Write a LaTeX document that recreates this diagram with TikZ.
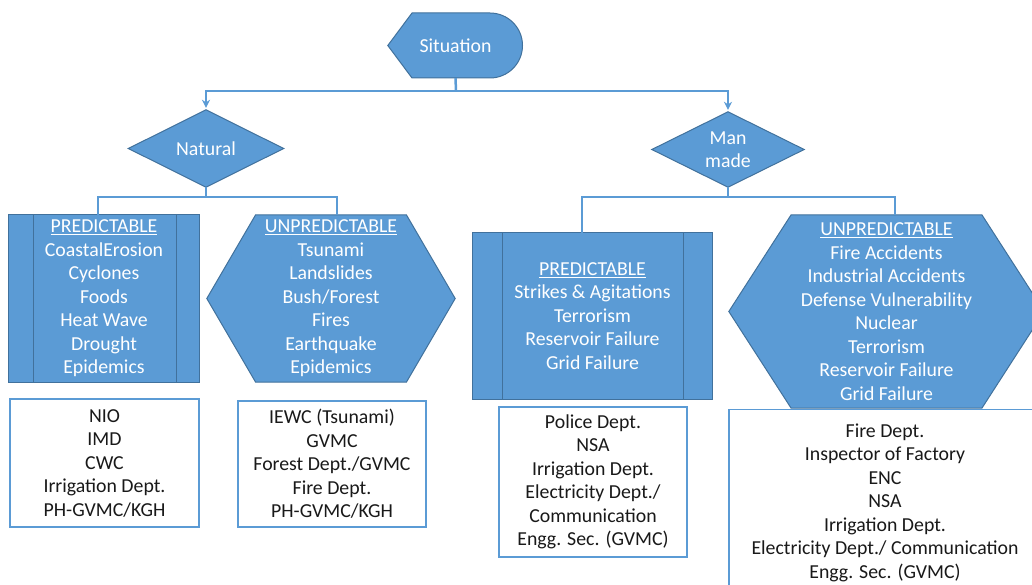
\documentclass[tikz,border=0pt]{standalone}
\usepackage{fontspec}
\setmainfont{Carlito}
\usetikzlibrary{backgrounds,arrows.meta}
\definecolor{shapeblue}{HTML}{5B9BD5}
\definecolor{edgeblue}{HTML}{41719C}
\definecolor{lineblue}{HTML}{5B9BD5}
\begin{document}
\begin{tikzpicture}[x=1pt,y=-1pt,
  lbl/.style={inner sep=0pt, align=center, font=\fontsize{19.8}{23.5}\selectfont},
  shapetext/.style={lbl,text=white},
  listtext/.style={lbl,text=black!90},
  blueshape/.style={fill=shapeblue,draw=edgeblue,line width=1pt},
  listbox/.style={draw=lineblue,line width=1.6pt,fill=white},
  link/.style={draw=lineblue,line width=2.5pt},
  tip/.style={-{Stealth[length=8pt,width=8pt]},shorten >=2pt}
]
\useasboundingbox (0,0) rectangle (1032,585);
\clip (0,0) rectangle (1032,585);

% ---- text nodes (sized to their shapes) ----
\node[shapetext, minimum width=135, minimum height=65] (sit) at (455.5,45.5) {Situation};
\node[shapetext, minimum width=155, minimum height=77] (natural) at (206,148.5) {Natural};
\node[shapetext, minimum width=152, minimum height=75] (manmade) at (728,149.5) {Man\\made};

\node[shapetext, minimum width=190, minimum height=167] (natpred) at (104,298.5)
  {\underline{PREDICTABLE}\\CoastalErosion\\Cyclones\\Foods\\Heat Wave\\Drought\\Epidemics};
\node[shapetext, minimum width=248, minimum height=167] (natunp) at (331,298.5)
  {\underline{UNPREDICTABLE}\\Tsunami\\Landslides\\Bush/Forest\\Fires\\Earthquake\\Epidemics};
\node[shapetext, minimum width=239, minimum height=166] (manpred) at (592.5,316)
  {\underline{PREDICTABLE}\\Strikes \& Agitations\\Terrorism\\Reservoir Failure\\Grid Failure};
\node[shapetext, minimum width=315, minimum height=193] (manunp) at (886.5,311.5)
  {\underline{UNPREDICTABLE}\\Fire Accidents\\Industrial Accidents\\Defense Vulnerability\\Nuclear\\Terrorism\\Reservoir Failure\\Grid Failure};

\node[listtext, minimum width=189, minimum height=128] (natpredorg) at (104.5,463)
  {NIO\\IMD\\CWC\\Irrigation Dept.\\PH-GVMC/KGH};
\node[listtext, minimum width=188, minimum height=126] (natunporg) at (332,464)
  {IEWC (Tsunami)\\GVMC\\Forest Dept./GVMC\\Fire Dept.\\PH-GVMC/KGH};
\node[listtext, minimum width=188, minimum height=150] (manpredorg) at (593,482)
  {Police Dept.\\NSA\\Irrigation Dept.\\Electricity Dept./\\Communication\\Engg. Sec. (GVMC)};
\node[listtext, minimum width=312, minimum height=186] (manunporg) at (885,502.5)
  {Fire Dept.\\Inspector of Factory\\ENC\\NSA\\Irrigation Dept.\\Electricity Dept./ Communication\\Engg. Sec. (GVMC)};

% ---- shapes behind the text ----
\begin{pgfonlayer}{background}
  % terminal-style start shape
  \path[blueshape] (sit.west) -- (412,13) -- (490,13)
    arc[start angle=-90,end angle=90,radius=32.5] -- (412,78) -- cycle;
  % decision diamonds
  \path[blueshape] (natural.west) -- (natural.north) -- (natural.east) -- (natural.south) -- cycle;
  \path[blueshape] (manmade.west) -- (manmade.north) -- (manmade.east) -- (manmade.south) -- cycle;
  % predefined-process boxes
  \path[blueshape] (natpred.north west) rectangle (natpred.south east);
  \draw[edgeblue,line width=1pt] (33,215) -- (33,382) (176,215) -- (176,382);
  \path[blueshape] (manpred.north west) rectangle (manpred.south east);
  \draw[edgeblue,line width=1pt] (502,233) -- (502,399) (683,233) -- (683,399);
  % hexagons
  \path[blueshape] (natunp.west) -- (255.5,215) -- (406.5,215) -- (natunp.east)
    -- (406.5,382) -- (255.5,382) -- cycle;
  \path[blueshape] (manunp.west) -- (791,215) -- (982,215) -- (manunp.east)
    -- (982,408) -- (791,408) -- cycle;
  % responsible-agency boxes
  \path[listbox] (natpredorg.north west) rectangle (natpredorg.south east);
  \path[listbox] (natunporg.north west) rectangle (natunporg.south east);
  \path[listbox] (manpredorg.north west) rectangle (manpredorg.south east);
  \path[listbox] (manunporg.north west) rectangle (manunporg.south east);
\end{pgfonlayer}

% ---- connectors ----
\coordinate (split) at (456,91);
\draw[link] (sit.south) -- (split);
\draw[link,tip] (split) -| (natural.north);
\draw[link,tip] (split) -| (manmade.north);

\coordinate (nsplit) at (206,197);
\draw[link] (natural.south) -- (nsplit);
\draw[link] (nsplit) -| ([xshift=-6pt]natpred.north);
\draw[link] (nsplit) -| ([xshift=6pt]natunp.north);

\coordinate (msplit) at (728,197);
\draw[link] (manmade.south) -- (msplit);
\draw[link] (msplit) -| ([xshift=-10.5pt]manpred.north);
\draw[link] (msplit) -| ([xshift=8.5pt]manunp.north);
\end{tikzpicture}
\end{document}
